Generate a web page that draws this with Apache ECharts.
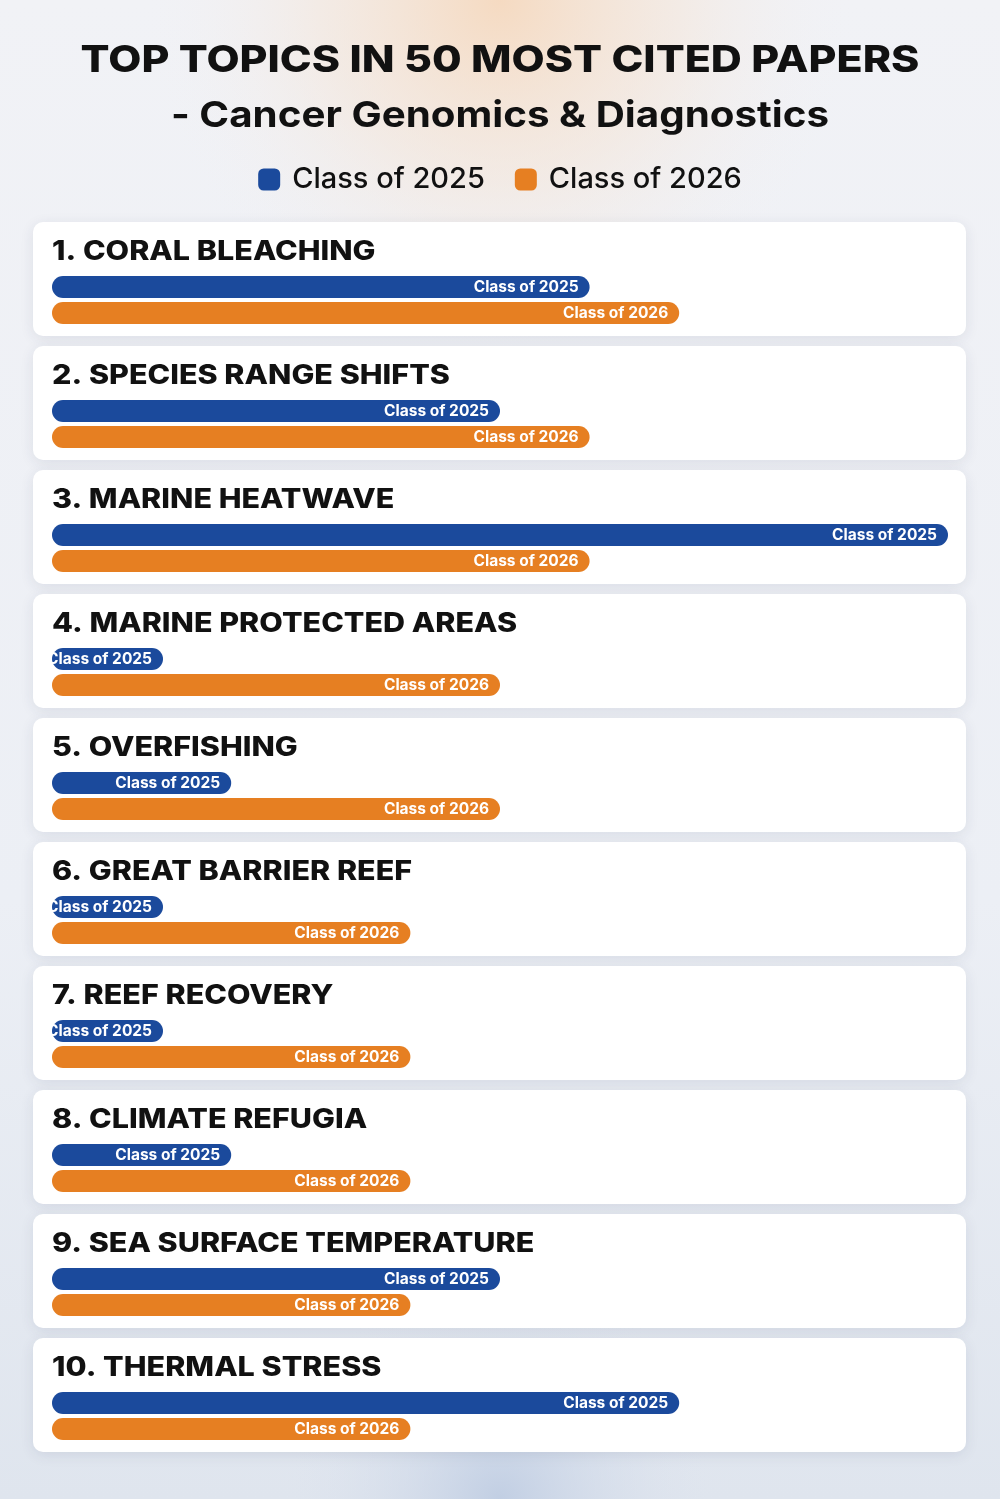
<!DOCTYPE html>
<html>
<head>
<meta charset="utf-8">
<script src="https://cdn.jsdelivr.net/npm/echarts@6/dist/echarts.min.js"></script>
<style>
html,body{margin:0;padding:0;background:#eef1f6;}
#chart{width:1000px;height:1499px;}
</style>
</head>
<body>
<div id="chart"></div>
<script>
const titleLine1 = 'TOP TOPICS IN 50 MOST CITED PAPERS';
const titleLine2 = '- Cancer Genomics & Diagnostics';
const seriesNames = ['Class of 2025', 'Class of 2026'];
const topics = ['CORAL BLEACHING', 'SPECIES RANGE SHIFTS', 'MARINE HEATWAVE', 'MARINE PROTECTED AREAS', 'OVERFISHING', 'GREAT BARRIER REEF', 'REEF RECOVERY', 'CLIMATE REFUGIA', 'SEA SURFACE TEMPERATURE', 'THERMAL STRESS'];
const class2025 = [6, 5, 10, 1, 2, 1, 1, 2, 5, 7];
const class2026 = [7, 6, 6, 5, 5, 4, 4, 4, 4, 4];
const axisMax = 10;

const COLORS = ['#1b4a9c', '#e67f22'];
const FONT = 'Inter, "Open Sans", sans-serif';
const cardTop0 = 222, cardStep = 124, cardH = 114;

const chart = echarts.init(document.getElementById('chart'), null, {renderer: 'canvas'});

const grids = [], xAxes = [], yAxes = [], series = [];
const graphics = [
  {type: 'rect', z: -10, shape: {x: 0, y: 0, width: 1000, height: 1499},
   style: {fill: {type: 'linear', x: 0, y: 0, x2: 0, y2: 1, colorStops: [
     {offset: 0, color: '#f1f2f6'}, {offset: 0.6, color: '#eceff5'}, {offset: 1, color: '#dfe5ee'}]}}},
  {type: 'rect', z: -9, shape: {x: 0, y: 0, width: 1000, height: 450},
   style: {fill: {type: 'radial', x: 0.5, y: 0, r: 0.8, colorStops: [
     {offset: 0, color: 'rgba(246,214,184,0.85)'}, {offset: 0.5, color: 'rgba(246,224,204,0.4)'}, {offset: 1, color: 'rgba(241,242,246,0)'}]}}},
  {type: 'rect', z: -9, shape: {x: 0, y: 1250, width: 1000, height: 249},
   style: {fill: {type: 'radial', x: 0.5, y: 1, r: 0.9, colorStops: [
     {offset: 0, color: 'rgba(190,204,226,0.9)'}, {offset: 1, color: 'rgba(225,230,240,0)'}]}}},
  {type: 'text', x: 500, y: 61, scaleX: 1.16, z: 10,
   style: {text: titleLine1, font: '800 37px ' + FONT, fill: '#111111', textAlign: 'center', textVerticalAlign: 'middle'}},
  {type: 'text', x: 500, y: 116, scaleX: 1.12, z: 10,
   style: {text: titleLine2, font: '700 36px ' + FONT, fill: '#111111', textAlign: 'center', textVerticalAlign: 'middle'}}
];

topics.forEach((t, i) => {
  const top = cardTop0 + i * cardStep;
  graphics.push({type: 'rect', z: -5,
    shape: {x: 33, y: top, width: 933, height: cardH, r: 10},
    style: {fill: '#ffffff', shadowBlur: 14, shadowOffsetY: 3, shadowColor: 'rgba(40,50,90,0.10)'}});
  graphics.push({type: 'text', z: 5, x: 52, y: top + 30, scaleX: 1.13,
    style: {text: (i + 1) + '. ' + t, font: '800 27px ' + FONT, fill: '#111111', textAlign: 'left', textVerticalAlign: 'middle'}});
  grids.push({left: 52, right: 52, top: top + 52, height: 52});
  xAxes.push({type: 'value', gridIndex: i, min: 0, max: axisMax, show: false});
  yAxes.push({type: 'category', gridIndex: i, data: seriesNames, inverse: true, show: false});
  [class2025, class2026].forEach((arr, k) => {
    const d = seriesNames.map((_, j) => j === k ? arr[i] : '-');
    series.push({
      type: 'bar', name: seriesNames[k], xAxisIndex: i, yAxisIndex: i,
      data: d, barWidth: 22, barGap: '-100%', barMinHeight: 111,
      itemStyle: {color: COLORS[k], borderRadius: 11},
      label: {show: true, position: 'insideRight', distance: 11, formatter: seriesNames[k],
        color: '#ffffff', fontFamily: FONT, fontWeight: 700, fontSize: 15.5},
      emphasis: {disabled: true}, animation: false
    });
  });
});

chart.setOption({
  animation: false,
  color: COLORS,
  legend: {
    data: seriesNames, top: 160, left: 'center', icon: 'roundRect',
    itemWidth: 22, itemHeight: 22, itemGap: 30,
    textStyle: {fontFamily: FONT, fontSize: 29, fontWeight: 500, color: '#111111', padding: [0, 0, 0, 7]}
  },
  graphic: graphics,
  grid: grids, xAxis: xAxes, yAxis: yAxes, series: series
});
</script>
</body>
</html>
